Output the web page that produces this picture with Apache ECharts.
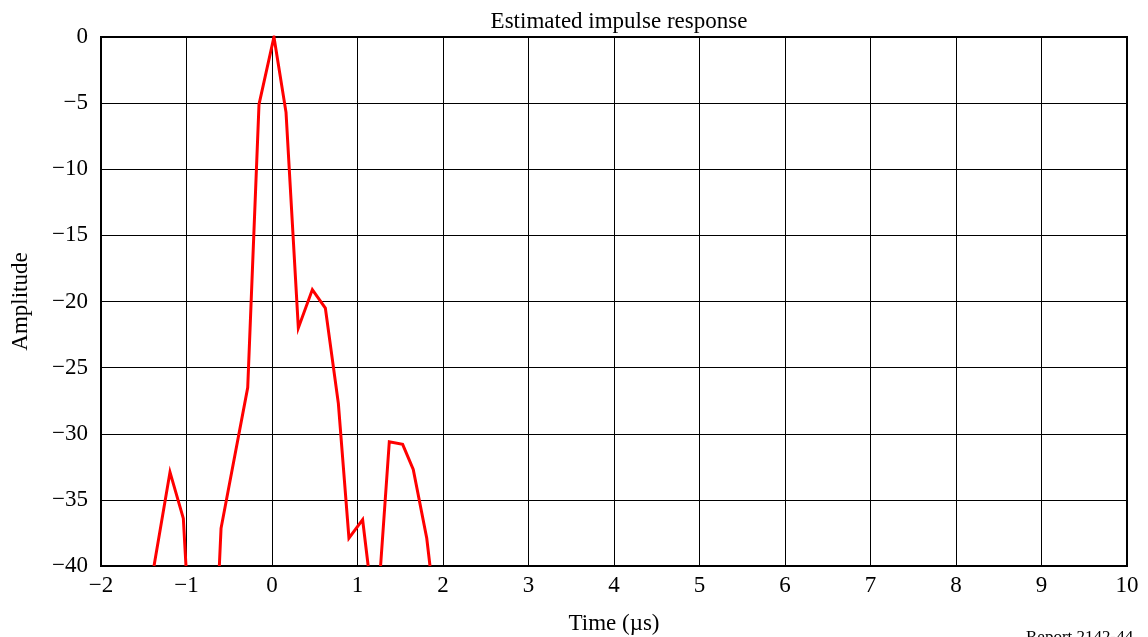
<!DOCTYPE html>
<html>
<head>
<meta charset="utf-8">
<script src="https://cdn.jsdelivr.net/npm/echarts@6/dist/echarts.min.js"></script>
<style>html,body{margin:0;padding:0;background:#fff}#c{width:1148px;height:637px}</style>
</head>
<body>
<div id="c"></div>
<script>
// Time (µs) and amplitude values; null breaks where the trace drops below -40
var timeValues = [-1.38, -1.193, -1.037, -1.006, null,
                  -0.616, -0.596, -0.284, -0.152, 0.023, 0.164, 0.308, 0.472, 0.624, 0.776, 0.90, 1.06, 1.125, null,
                  1.27, 1.372, 1.528, 1.652, 1.81, 1.848];
var amplitudeValues = [-40, -32.9, -36.4, -40, null,
                  -40, -37.15, -26.5, -5.1, 0, -5.7, -22.0, -19.1, -20.5, -27.7, -37.9, -36.5, -40, null,
                  -40, -30.6, -30.8, -32.7, -37.9, -40];
var xTicks = {min: -2, max: 10, step: 1};
var yTicks = {min: -40, max: 0, step: 5};
var titleText = 'Estimated impulse response';
var xName = 'Time (\u00b5s)';
var yName = 'Amplitude';
var noteText = 'Report 2142-44';

var data = timeValues.map(function (t, i) {
  return (t === null) ? [null, null] : [t, amplitudeValues[i]];
});
function fmt(v) { return String(v).replace('-', '\u2212'); }
var font = 'Liberation Serif, Times New Roman, serif';
var chart = echarts.init(document.getElementById('c'), null, {renderer: 'canvas'});
chart.setOption({
  animation: false,
  backgroundColor: '#fff',
  title: {text: titleText, left: 614, top: 5, textAlign: 'center',
          textStyle: {fontFamily: font, fontSize: 23, fontWeight: 'normal', color: '#000'}},
  grid: {left: 101, right: 21, top: 37, bottom: 71, show: true, borderColor: '#000', borderWidth: 2,
         containLabel: false, outerBoundsMode: 'none'},
  xAxis: {
    type: 'value', min: xTicks.min, max: xTicks.max, interval: xTicks.step,
    name: xName, nameLocation: 'middle', nameGap: 46,
    nameTextStyle: {fontFamily: font, fontSize: 23, color: '#000'},
    axisLine: {show: true, onZero: false, lineStyle: {color: '#000', width: 2}},
    axisTick: {show: false},
    axisLabel: {formatter: fmt, fontFamily: font, fontSize: 23, color: '#000', margin: 8},
    splitLine: {show: true, lineStyle: {color: '#000', width: 1}}
  },
  yAxis: {
    type: 'value', min: yTicks.min, max: yTicks.max, interval: yTicks.step,
    name: yName, nameLocation: 'middle', nameGap: 69, nameRotate: 90,
    nameTextStyle: {fontFamily: font, fontSize: 23, color: '#000'},
    axisLine: {show: true, onZero: false, lineStyle: {color: '#000', width: 2}},
    axisTick: {show: false},
    axisLabel: {formatter: fmt, fontFamily: font, fontSize: 23, color: '#000', margin: 13},
    splitLine: {show: true, lineStyle: {color: '#000', width: 1}}
  },
  series: [{
    type: 'line', data: data, showSymbol: false, connectNulls: false, clip: true,
    lineStyle: {color: '#ff0000', width: 3, join: 'miter'}
  }],
  graphic: [{
    type: 'text', left: 1026, top: 629,
    style: {text: noteText, fontFamily: font, fontSize: 17, fill: '#000'}
  }]
});
</script>
</body>
</html>
